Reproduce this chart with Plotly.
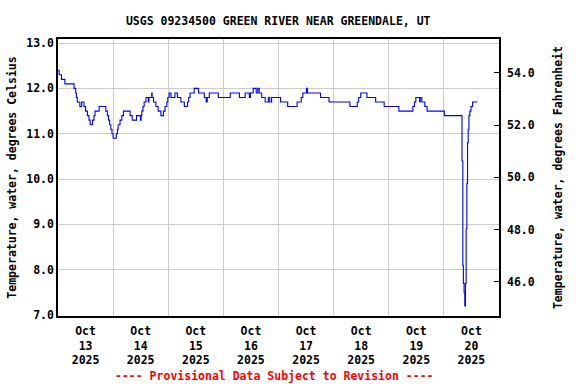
import datetime as dt
import plotly.graph_objects as go

TITLE = "USGS 09234500 GREEN RIVER NEAR GREENDALE, UT"
Y_LEFT_TITLE = "Temperature, water, degrees Celsius"
Y_RIGHT_TITLE = "Temperature, water, degrees Fahrenheit"
FOOTER = "---- Provisional Data Subject to Revision ----"

START = dt.datetime(2025, 10, 13, 0, 0)

# Hours after 2025-10-13 00:00 at which the reading changes, and the new reading (deg C)
hours = [0, 0.5, 1.5, 3, 7, 7.7, 8.0, 8.4, 9.5, 10.3, 11.3, 12, 12.8, 13.5, 14, 15, 15.7, 16.1,
         17.9, 20.8, 21.5, 22, 22.5, 23, 23.5, 24, 25.4, 25.9, 26.2, 27, 27.8, 28.5, 31.4, 32.3,
         34.2, 35.9, 36.2, 36.5, 37, 37.5, 38.3, 39.3, 39.6, 40.8, 41.0, 41.6, 42.6, 43.6, 44.8,
         45.9, 46.6, 47.4, 47.8, 48.4, 49.2, 50.9, 52.0, 53.5, 55.0, 56.4, 56.9, 57.5, 59.3, 61.2,
         63.7, 64.5, 65.0, 65.9, 69.8, 75.0, 79.0, 81.5, 83.3, 83.8, 85.0, 86.3, 87.0, 87.6, 88.7,
         90.2, 91.6, 92.2, 93.0, 96.9, 100.0, 104.1, 105.9, 106.6, 108.2, 108.6, 114.3, 118.0,
         127.1, 130.3, 130.9, 131.8, 134.5, 138.3, 142.0, 148.4, 154.5, 155.2, 155.8, 157.4,
         157.7, 158.4, 159.7, 160.7, 168.2, 175.9, 176.25, 176.5, 176.8, 177.1, 177.4, 177.7,
         178.0, 178.3, 178.6, 178.9, 179.3, 179.8, 180.5, 182.6]
temp_c = [12.4, 12.3, 12.2, 12.1, 12.0, 11.9, 11.8, 11.7, 11.6, 11.7, 11.6, 11.5, 11.4, 11.3, 11.2,
          11.3, 11.4, 11.5, 11.6, 11.5, 11.4, 11.3, 11.2, 11.1, 11.0, 10.9, 11.0, 11.1, 11.2, 11.3,
          11.4, 11.5, 11.4, 11.3, 11.4, 11.3, 11.4, 11.5, 11.6, 11.7, 11.8, 11.7, 11.8, 11.9, 11.8,
          11.7, 11.6, 11.5, 11.4, 11.5, 11.6, 11.7, 11.8, 11.9, 11.8, 11.9, 11.8, 11.7, 11.6, 11.7,
          11.8, 11.9, 12.0, 11.9, 11.8, 11.7, 11.8, 11.9, 11.8, 11.9, 11.8, 11.9, 11.8, 11.9, 12.0,
          11.9, 12.0, 11.9, 11.8, 11.7, 11.8, 11.7, 11.8, 11.7, 11.6, 11.7, 11.8, 11.9, 12.0, 11.9,
          11.8, 11.7, 11.6, 11.7, 11.8, 11.9, 11.8, 11.7, 11.6, 11.5, 11.6, 11.7, 11.8, 11.7, 11.8,
          11.7, 11.6, 11.5, 11.4, 10.4, 8.1, 7.7, 7.5, 7.2, 7.7, 8.9, 9.9, 10.8, 11.1, 11.4, 11.5,
          11.6, 11.7, 11.7]

day_labels = ["Oct<br>13<br>2025", "Oct<br>14<br>2025", "Oct<br>15<br>2025", "Oct<br>16<br>2025",
              "Oct<br>17<br>2025", "Oct<br>18<br>2025", "Oct<br>19<br>2025", "Oct<br>20<br>2025"]
c_ticks = [7.0, 8.0, 9.0, 10.0, 11.0, 12.0, 13.0]
f_ticks = [46.0, 48.0, 50.0, 52.0, 54.0]

times = [START + dt.timedelta(hours=h) for h in hours]
temp_f = [c * 1.8 + 32 for c in temp_c]
label_pos = [START + dt.timedelta(days=i, hours=12) for i in range(len(day_labels))]
grid_pos = [START + dt.timedelta(days=i) for i in range(1, len(day_labels))]

FONT = "DejaVu Sans Mono"
FS = 11.5

fig = go.Figure()
fig.add_trace(go.Scatter(x=times, y=temp_c, mode="lines", line=dict(color="#0000ff", width=1.1, shape="hv"),
                         showlegend=False, hoverinfo="skip"))
fig.add_trace(go.Scatter(x=times, y=temp_f, mode="lines", yaxis="y2",
                         line=dict(color="rgba(0,0,0,0)", width=0, shape="hv"),
                         showlegend=False, hoverinfo="skip"))

fig.update_layout(
    width=576, height=384,
    margin=dict(l=58, r=77, t=39, b=68, autoexpand=False),
    paper_bgcolor="white", plot_bgcolor="white",
    font=dict(family=FONT, size=FS, color="black"),
    title=dict(text="<b>" + TITLE + "</b>", x=0.483, xanchor="center", y=0.945, yanchor="middle",
               font=dict(family=FONT, size=FS, color="black"), automargin=False),
    xaxis=dict(
        range=[START, START + dt.timedelta(days=8)], automargin=False,
        tickmode="array", tickvals=label_pos, ticktext=["<b>" + t + "</b>" for t in day_labels],
        ticks="", showgrid=False, zeroline=False, ticklabelstandoff=3,
        showline=True, linecolor="black", linewidth=1.5, mirror=True,
        tickfont=dict(family=FONT, size=FS, color="black"),
        minor=dict(tickmode="array", tickvals=grid_pos, showgrid=True, gridcolor="#cccccc", gridwidth=1, ticks=""),
    ),
    yaxis=dict(
        range=[6.98, 13.09], tickmode="array", tickvals=c_ticks, automargin=False,
        ticktext=["<b>%.1f</b>" % v for v in c_ticks],
        showgrid=True, gridcolor="#cccccc", gridwidth=1, zeroline=False,
        showline=True, linecolor="black", linewidth=1.5, mirror=True, ticks="",
        tickfont=dict(family=FONT, size=FS, color="black"),
        title=dict(text="<b>" + Y_LEFT_TITLE + "</b>", font=dict(family=FONT, size=FS, color="black"), standoff=7),
    ),
    yaxis2=dict(
        overlaying="y", side="right", range=[44.69, 55.30], tickmode="array", tickvals=f_ticks,
        ticktext=["<b>%.1f</b>" % v for v in f_ticks], automargin=False,
        showgrid=False, zeroline=False, ticks="inside", ticklen=5, tickcolor="black",
        ticklabelstandoff=7,
        tickfont=dict(family=FONT, size=FS, color="black"),
        title=dict(text="<b>" + Y_RIGHT_TITLE + "</b>", font=dict(family=FONT, size=FS, color="black"), standoff=20),
    ),
    annotations=[dict(text="<b>" + FOOTER + "</b>", xref="paper", yref="paper", x=0.492, y=-0.215,
                      xanchor="center", yanchor="middle", showarrow=False,
                      font=dict(family=FONT, size=FS, color="#ff0000"))],
)

fig.write_html("out.html", config={"displayModeBar": False},
               post_script="document.body.style.margin='0';document.body.style.padding='0';")
